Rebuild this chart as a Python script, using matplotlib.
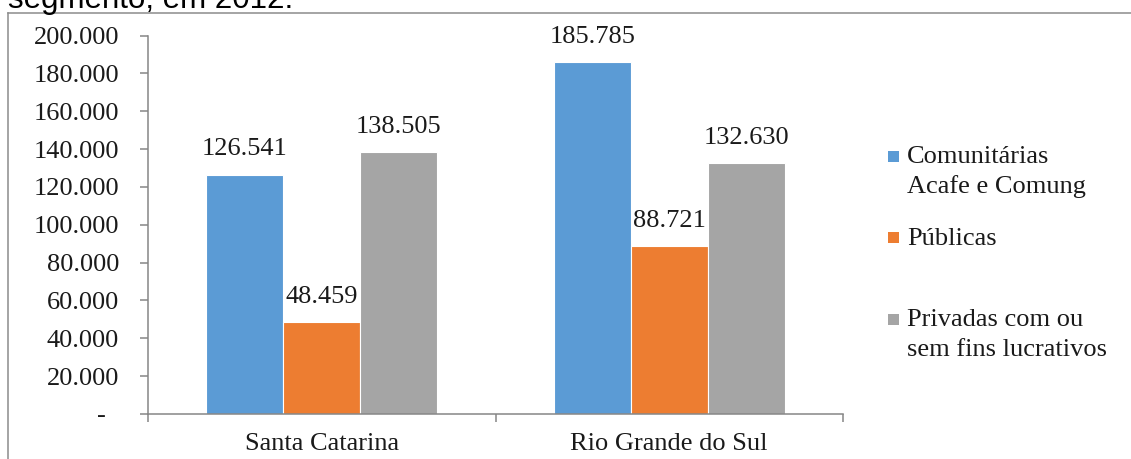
import numpy as np
import matplotlib.pyplot as plt
from matplotlib.lines import Line2D
from matplotlib.patches import Rectangle
from matplotlib.ticker import FixedLocator, FuncFormatter, NullFormatter

plt.rcParams['font.family'] = ['Liberation Serif', 'DejaVu Serif']

W, H, DPI = 1131, 459, 100

estados = ['Santa Catarina', 'Rio Grande do Sul']
series = ['Comunitárias\nAcafe e Comung', 'Públicas', 'Privadas com ou\nsem fins lucrativos']
comunitarias = [126541, 185785]
publicas = [48459, 88721]
privadas = [138505, 132630]
cores = ['#5B9BD5', '#ED7D31', '#A5A5A5']

FS = 19


def px(x, y):
    """pixel position (from top-left) -> figure fraction"""
    return x / W, 1 - y / H


def milhar(v):
    return f"{int(round(v)):,}".replace(",", ".")


def fmt_eixo(v, pos):
    if abs(v) < 1e-9:
        return "-\u2002"
    return milhar(v)


fig = plt.figure(figsize=(W / DPI, H / DPI), dpi=DPI)
l, t = px(148, 35.5)
r, b = px(843, 414)
ax = fig.add_axes([l, b, r - l, t - b])

x = np.arange(len(estados))
w = 0.2216
valores = [comunitarias, publicas, privadas]
for i, (vals, cor) in enumerate(zip(valores, cores)):
    pos = x + (i - 1) * w
    ax.bar(pos, vals, width=w, color=cor, edgecolor='white', linewidth=0.8, zorder=2)
    for xi, v in zip(pos, vals):
        ax.annotate(milhar(v), xy=(xi, v), xytext=(0, 13.7), textcoords='offset points',
                    ha='center', va='baseline', fontsize=FS, color='#1a1a1a')

ax.set_xlim(-0.5, 1.5)
ax.set_ylim(0, 200000)

# axes styling
grey = '#868686'
for s in ['top', 'right']:
    ax.spines[s].set_visible(False)
for s in ['left', 'bottom']:
    ax.spines[s].set_color(grey)
    ax.spines[s].set_linewidth(1.1)

ax.yaxis.set_major_locator(FixedLocator(np.arange(0, 200001, 20000)))
ax.yaxis.set_major_formatter(FuncFormatter(fmt_eixo))
ax.tick_params(axis='y', direction='out', length=5.8, width=1.1, color=grey,
               pad=15, labelsize=FS, labelcolor='#1a1a1a')

ax.xaxis.set_major_locator(FixedLocator([-0.5, 0.5, 1.5]))
ax.xaxis.set_major_formatter(NullFormatter())
ax.xaxis.set_minor_locator(FixedLocator(x))
ax.set_xticklabels(estados, minor=True)
ax.tick_params(axis='x', which='major', direction='out', length=5.8, width=1.1, color=grey)
ax.tick_params(axis='x', which='minor', length=0, pad=14, labelsize=FS, labelcolor='#1a1a1a')

# legend, first line of each entry aligned with its marker
bases = [163, 245, 326]
for nome, cor, yb in zip(series, cores, bases):
    sx, sy = px(888, yb - 1.5)
    fig.add_artist(Rectangle((sx, sy), 11 / W, 11 / H, transform=fig.transFigure,
                             facecolor=cor, edgecolor='none'))
    for k, linha in enumerate(nome.split('\n')):
        fig.text(*px(907, yb + 29.5 * k), linha, ha='left', va='baseline',
                 fontsize=FS, color='#1a1a1a')

# frame around the chart area and the caption above it
fc = '#8c8c8c'
fig.add_artist(Line2D([8 / W, 8 / W], [1 - 13 / H, -0.05], transform=fig.transFigure,
                      color=fc, linewidth=1.1))
fig.add_artist(Line2D([8 / W, 1.05], [1 - 13 / H, 1 - 13 / H], transform=fig.transFigure,
                      color=fc, linewidth=1.1))
fig.text(*px(8, 8), 'segmento, em 2012.', ha='left', va='baseline',
         fontsize=22.5, family=['Liberation Sans', 'DejaVu Sans'], color='black')

fig.savefig('out.png', dpi=DPI)
